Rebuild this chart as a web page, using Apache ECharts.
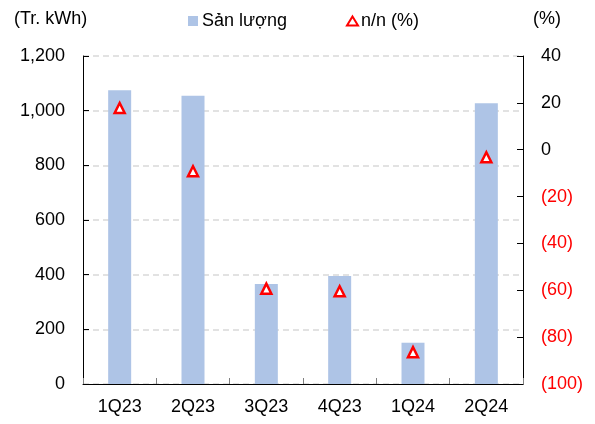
<!DOCTYPE html>
<html>
<head>
<meta charset="utf-8">
<script src="https://cdn.jsdelivr.net/npm/echarts@6/dist/echarts.min.js"></script>
<style>html,body{margin:0;padding:0;background:#fff;}#chart{width:595px;height:424px;}</style>
</head>
<body>
<div id="chart"></div>
<script>
var categories = ['1Q23', '2Q23', '3Q23', '4Q23', '1Q24', '2Q24'];
var outputValues = [1075, 1055, 366, 395, 151, 1027];
var yoyValues = [17.8, -9.2, -59.3, -60.4, -86.4, -3.2];
var barName = 'Sản lượng';
var lineName = 'n/n (%)';
var leftUnit = '(Tr. kWh)';
var rightUnit = '(%)';

var FONT = 'Liberation Sans';
var FS = 18;
var chart = echarts.init(document.getElementById('chart'));
chart.setOption({
  animation: false,
  backgroundColor: '#ffffff',
  textStyle: {fontFamily: FONT, fontSize: FS, color: '#000'},
  grid: {left: 83, right: 72, top: 56, bottom: 40, containLabel: false},
  legend: [
    {data: [barName], left: 188, top: 11, padding: 0, itemWidth: 10, itemHeight: 10, itemGap: 4,
     icon: 'rect', textStyle: {fontFamily: FONT, fontSize: FS, color: '#000', lineHeight: 20, padding: [0,0,0,-1]}},
    {data: [lineName], left: 346, top: 11, padding: 0, itemWidth: 11, itemHeight: 9, itemGap: 2,
     icon: 'triangle', textStyle: {fontFamily: FONT, fontSize: FS, color: '#000', lineHeight: 20, padding: [0,0,0,-2]}}
  ],
  graphic: [
    {type: 'text', left: 14, top: 10, style: {text: leftUnit, fontFamily: FONT, fontSize: FS, fill: '#000'}},
    {type: 'text', left: 533, top: 10, style: {text: rightUnit, fontFamily: FONT, fontSize: FS, fill: '#000'}}
  ],
  xAxis: {
    type: 'category', data: categories,
    axisLine: {show: true, lineStyle: {color: '#000', width: 1}},
    axisTick: {show: true, inside: true, length: 6, alignWithLabel: false, lineStyle: {color: '#808080'}},
    axisLabel: {margin: 14, fontFamily: FONT, fontSize: FS, color: '#000'},
    splitLine: {show: false}
  },
  yAxis: [
    {type: 'value', min: 0, max: 1200, interval: 200, position: 'left',
     axisLine: {show: true, lineStyle: {color: '#000'}},
     axisTick: {show: true, inside: true, length: 6, lineStyle: {color: '#000'}},
     axisLabel: {margin: 18, fontFamily: FONT, fontSize: FS, color: '#000',
       formatter: function (v) { return v.toLocaleString('en-US'); }},
     splitLine: {show: true, lineStyle: {color: '#d9d9d9', type: [6, 4], width: 1.5}}
    },
    {type: 'value', min: -100, max: 40, interval: 20, position: 'right', alignTicks: false,
     axisLine: {show: true, lineStyle: {color: '#000'}},
     axisTick: {show: true, inside: true, length: 6, lineStyle: {color: '#000'}},
     axisLabel: {margin: 18, fontFamily: FONT, fontSize: FS,
       formatter: function (v) { return v < 0 ? '{r|(' + (-v) + ')}' : '{b|' + v + '}'; },
       rich: {r: {color: '#ff0000', fontFamily: FONT, fontSize: FS}, b: {color: '#000', fontFamily: FONT, fontSize: FS}}},
     splitLine: {show: false}
    }
  ],
  series: [
    {name: barName, type: 'bar', data: outputValues, yAxisIndex: 0, barWidth: 23,
     itemStyle: {color: '#aec4e6'}},
    {name: lineName, type: 'line', data: yoyValues, yAxisIndex: 1,
     lineStyle: {width: 0, opacity: 0}, symbol: 'triangle', symbolSize: [10, 10],
     itemStyle: {color: '#ffffff', borderColor: '#ff0000', borderWidth: 2.5}, z: 5}
  ]
});
</script>
</body>
</html>
